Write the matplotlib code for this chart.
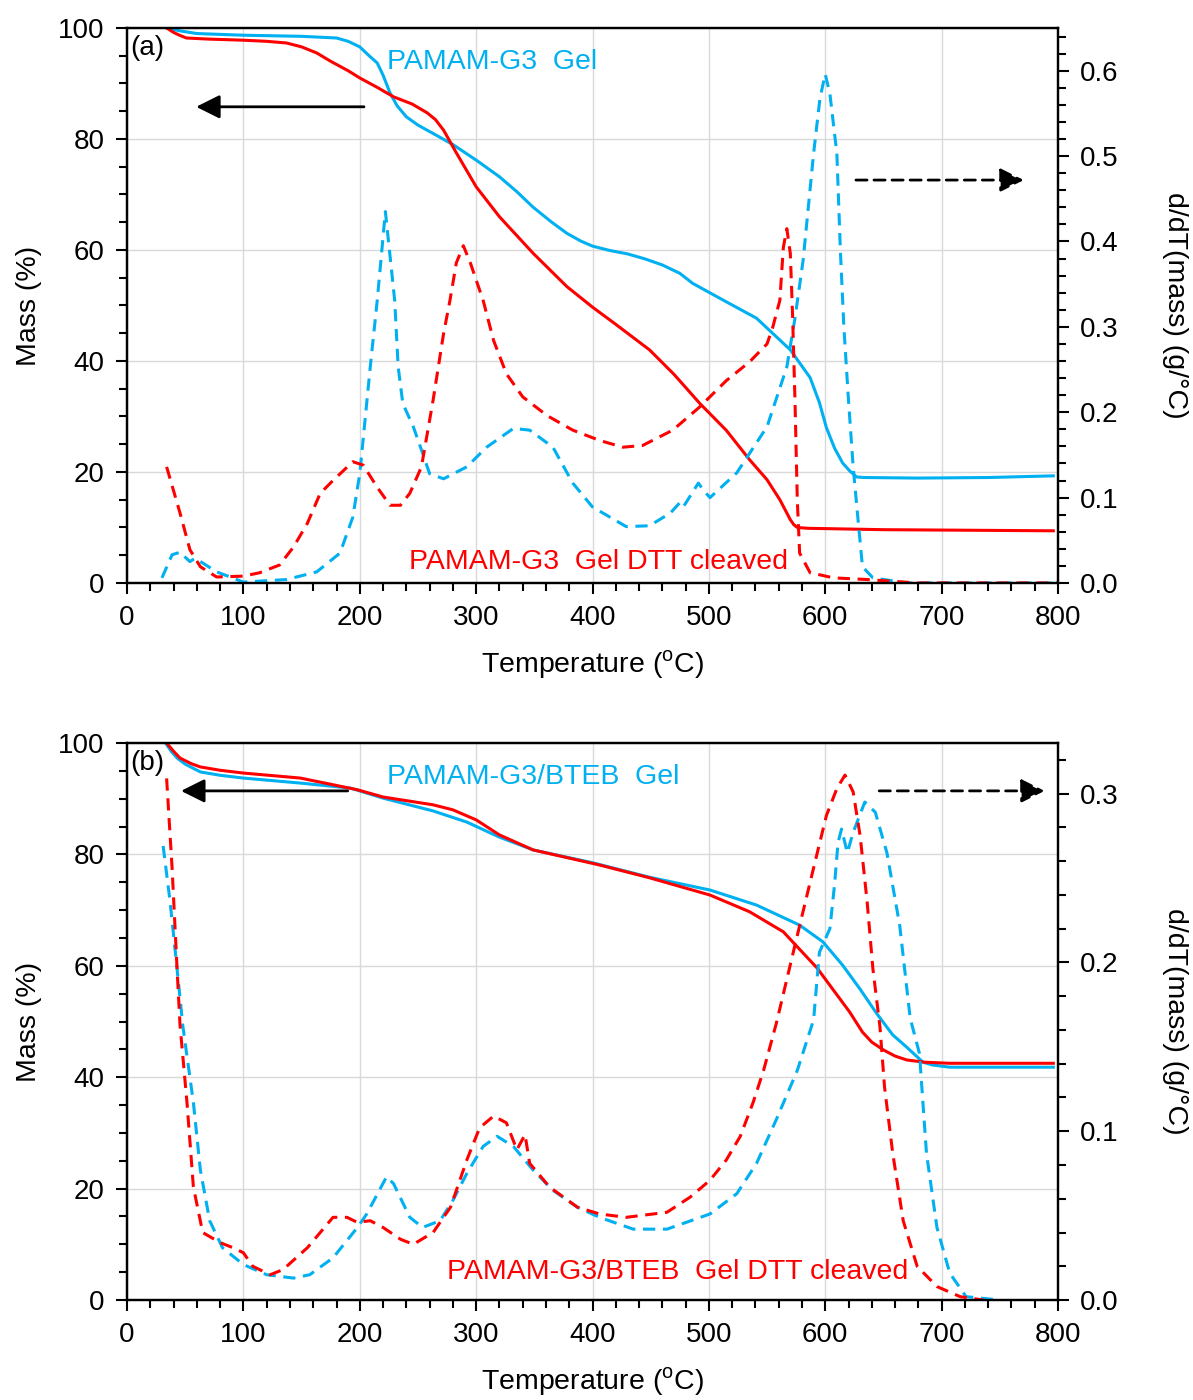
import matplotlib
matplotlib.use('Agg')
import matplotlib.pyplot as plt
from matplotlib.ticker import MultipleLocator, FormatStrFormatter

plt.rcParams['font.family'] = ['Liberation Sans', 'DejaVu Sans']
plt.rcParams['mathtext.fontset'] = 'custom'
plt.rcParams['mathtext.rm'] = 'Liberation Sans'

CYAN = '#00B0F0'
RED = '#FF0000'

# ---------- panel (a): PAMAM-G3 ----------
ta_gel_tg = [34, 45, 60, 100, 150, 180, 190, 200, 208, 215, 220, 226, 232, 240, 250,
             263, 280, 300, 320, 335, 349, 365, 378, 390, 400, 415, 430, 445, 460, 475,
             486, 512, 541, 570, 587, 595, 601, 608, 615, 621, 627, 633, 679, 740, 796]
ma_gel_tg = [100, 99.5, 99.0, 98.7, 98.5, 98.2, 97.6, 96.6, 95.0, 93.7, 91.5, 88.3, 86.0, 84.0, 82.5,
             81.0, 79.0, 76.2, 73.2, 70.5, 67.7, 65.0, 63.0, 61.6, 60.7, 59.9, 59.3, 58.4, 57.3, 55.8,
             54.0, 51.0, 47.7, 42.0, 37.0, 32.5, 28.0, 24.3, 21.6, 20.2, 19.1, 19.0, 18.9, 19.0, 19.3]

ta_dtt_tg = [34, 40, 45, 51, 70, 100, 120, 137, 150, 163, 175, 190, 200, 215, 229,
             245, 258, 265, 272, 283, 300, 320, 349, 378, 400, 420, 449, 470, 492, 515,
             535, 550, 561, 566, 570, 573, 576, 585, 650, 796]
ma_dtt_tg = [100, 99.2, 98.7, 98.2, 98.0, 97.8, 97.6, 97.3, 96.6, 95.5, 94.0, 92.3, 91.0, 89.3, 87.6,
             86.3, 84.7, 83.5, 81.6, 77.5, 71.4, 66.0, 59.4, 53.4, 49.7, 46.6, 42.0, 37.6, 32.4, 27.5,
             22.2, 18.6, 15.0, 13.0, 11.4, 10.5, 10.0, 9.85, 9.6, 9.4]

ta_gel_dtg = [30, 38.7, 45.5, 54, 58.5, 77, 100, 137, 163, 183, 194, 200, 209, 215, 222,
              230, 233, 237, 246, 254, 260, 272, 292, 309, 332, 346, 366, 383, 400, 429,
              449, 467, 475, 478, 491, 495, 501, 524, 550, 567, 574, 581, 590, 595.5, 600,
              604, 610, 613, 616, 620, 624, 628, 632, 641, 670, 800]
da_gel_dtg = [0.006, 0.033, 0.036, 0.025, 0.029, 0.013, 0.001, 0.004, 0.013, 0.035, 0.077, 0.128, 0.253, 0.331, 0.435,
              0.331, 0.253, 0.21, 0.183, 0.152, 0.128, 0.122, 0.136, 0.159, 0.181, 0.179, 0.159, 0.117, 0.089, 0.066,
              0.067, 0.082, 0.094, 0.089, 0.117, 0.109, 0.1, 0.129, 0.183, 0.253, 0.31, 0.378, 0.503, 0.568, 0.596,
              0.573, 0.503, 0.39, 0.30, 0.214, 0.136, 0.077, 0.019, 0.006, 0.0, 0.0]

ta_dtt_dtg = [34, 45.5, 54, 63, 77, 100, 114, 131, 143, 155, 166, 177, 194, 203, 215,
              226, 235, 243, 253, 263, 272, 277.5, 283, 289, 295, 306, 315, 326, 340, 361,
              383, 406, 426, 443, 469, 492, 515, 535, 550, 555, 561, 564, 567, 570, 572,
              574, 576, 578, 587, 607, 636, 679, 800]
da_dtt_dtg = [0.136, 0.082, 0.039, 0.019, 0.007, 0.008, 0.012, 0.021, 0.042, 0.07, 0.105, 0.12, 0.142, 0.138, 0.112,
              0.091, 0.091, 0.105, 0.136, 0.214, 0.292, 0.331, 0.375, 0.395, 0.375, 0.331, 0.284, 0.245, 0.218, 0.196,
              0.179, 0.167, 0.159, 0.161, 0.179, 0.206, 0.237, 0.259, 0.28, 0.3, 0.331, 0.393, 0.415, 0.386, 0.311,
              0.214, 0.097, 0.035, 0.012, 0.006, 0.004, 0.0, 0.0]

# ---------- panel (b): PAMAM-G3/BTEB ----------
tb_gel_tg = [33, 38, 43, 50, 63, 80, 100, 149, 192, 220, 263, 292, 320, 349, 400,
             449, 501, 541, 578, 598, 615, 630, 644, 658, 670, 684, 692, 707, 796]
mb_gel_tg = [100, 98.5, 97.3, 96.2, 94.8, 94.2, 93.7, 92.8, 91.9, 90.1, 87.8, 85.8, 83.1, 80.8, 78.5,
             75.9, 73.6, 70.9, 67.3, 64.3, 60.1, 55.8, 51.5, 47.6, 45.4, 42.7, 42.2, 41.8, 41.8]

tb_dtt_tg = [34, 40, 45.5, 55, 63, 80, 100, 149, 177, 198, 220, 263, 280, 300, 320,
             349, 406, 449, 501, 535, 564, 593, 621, 632, 640, 650, 660, 670, 685, 707, 796]
mb_dtt_tg = [100, 98.5, 97.3, 96.3, 95.7, 95.1, 94.6, 93.7, 92.5, 91.6, 90.3, 88.9, 88.0, 86.2, 83.5,
             80.8, 78.1, 75.8, 72.7, 69.7, 66.1, 59.6, 51.7, 48.1, 46.3, 44.9, 43.8, 43.1, 42.7, 42.5, 42.5]

tb_gel_dtg = [31, 37, 43, 48, 57, 63, 71, 82, 100, 120, 143, 157, 177, 198, 206,
              223, 229, 243, 254, 269, 280, 292, 306, 318, 332, 349, 366, 387, 406, 435,
              464, 501, 524, 541, 558, 576, 590, 595, 604, 608, 611, 614, 619, 624, 634,
              643, 653, 664, 673, 681, 687, 696, 707, 721, 750]
db_gel_dtg = [0.269, 0.236, 0.196, 0.162, 0.117, 0.077, 0.047, 0.031, 0.021, 0.015, 0.013, 0.015, 0.025, 0.043, 0.051,
              0.073, 0.069, 0.049, 0.043, 0.047, 0.059, 0.075, 0.091, 0.097, 0.091, 0.077, 0.065, 0.055, 0.049, 0.042,
              0.042, 0.051, 0.063, 0.081, 0.107, 0.136, 0.166, 0.206, 0.22, 0.246, 0.271, 0.279, 0.265, 0.277, 0.295,
              0.289, 0.265, 0.222, 0.167, 0.146, 0.087, 0.043, 0.016, 0.002, 0.0]

tb_dtt_dtg = [34, 38.7, 43, 45.5, 51.5, 57, 65, 80, 91, 100, 108, 123, 134, 155, 177,
              189, 198, 209, 220, 235, 246, 263, 278, 292, 303, 315, 326, 335, 342, 346,
              363, 387, 406, 429, 464, 484, 501, 515, 527, 538, 547, 558, 576, 590, 601,
              610, 617, 624, 630, 636, 641, 647, 651, 658, 667, 679, 696, 716, 736]
db_dtt_dtg = [0.309, 0.256, 0.196, 0.163, 0.117, 0.067, 0.040, 0.034, 0.031, 0.028, 0.020, 0.015, 0.018, 0.031, 0.049,
              0.049, 0.046, 0.047, 0.043, 0.036, 0.033, 0.040, 0.055, 0.083, 0.102, 0.109, 0.105, 0.089, 0.098, 0.081,
              0.067, 0.055, 0.051, 0.049, 0.052, 0.061, 0.071, 0.083, 0.097, 0.117, 0.136, 0.164, 0.216, 0.256, 0.287,
              0.303, 0.311, 0.301, 0.275, 0.236, 0.196, 0.162, 0.126, 0.087, 0.047, 0.020, 0.008, 0.002, 0.0]

FS = 20
FS_LAB = 20.5
FS_ANN = 20.5
LW = 2.2
DASH = (0, (4, 2.5))


def style_axes(ax, ax2, ymax2):
    ax.set_xlim(0, 800)
    ax.set_ylim(0, 100)
    ax2.set_ylim(0, ymax2)
    ax.xaxis.set_major_locator(MultipleLocator(100))
    ax.xaxis.set_minor_locator(MultipleLocator(20))
    ax.yaxis.set_major_locator(MultipleLocator(20))
    ax.yaxis.set_minor_locator(MultipleLocator(5))
    ax2.yaxis.set_major_locator(MultipleLocator(0.1))
    ax2.yaxis.set_minor_locator(MultipleLocator(0.02))
    ax2.yaxis.set_major_formatter(FormatStrFormatter('%.1f'))
    ax.grid(True, which='major', color='#D9D9D9', lw=1.0)
    ax.set_axisbelow(True)
    for a in (ax, ax2):
        for s in a.spines.values():
            s.set_linewidth(1.6)
            s.set_color('black')
        a.tick_params(which='major', direction='out', length=8, width=1.5, labelsize=FS, pad=8)
        a.tick_params(which='minor', direction='out', length=6, width=1.5)
    ax.set_xlabel('Temperature ($^{\\mathrm{o}}$C)', fontsize=FS_LAB, labelpad=12)
    ax.set_ylabel('Mass (%)', fontsize=FS_LAB, labelpad=12)
    ax2.set_ylabel('d/dT(mass) (g/°C)', fontsize=FS_LAB, rotation=270, labelpad=50)


def arrow(ax, x0, x1, y, dashed=False):
    props = dict(arrowstyle='-|>', color='black', lw=2.0, mutation_scale=36)
    if dashed:
        props['linestyle'] = (0, (4, 2.5))
    ax.annotate('', xy=(x1, y), xytext=(x0, y), arrowprops=props)


fig = plt.figure(figsize=(11.93, 14.0), dpi=100)

# panel (a)
ax1 = fig.add_axes([0.1065, 0.5836, 0.7803, 0.3964])
ax1b = ax1.twinx()
ax1.plot(ta_gel_tg, ma_gel_tg, color=CYAN, lw=LW)
ax1.plot(ta_dtt_tg, ma_dtt_tg, color=RED, lw=LW)
ax1b.plot(ta_gel_dtg, da_gel_dtg, color=CYAN, lw=LW, linestyle=DASH)
ax1b.plot(ta_dtt_dtg, da_dtt_dtg, color=RED, lw=LW, linestyle=DASH)
style_axes(ax1, ax1b, 0.65)
ax1.text(3, 96.4, '(a)', fontsize=FS, va='center', ha='left')
ax1.text(223, 93.9, 'PAMAM-G3  Gel', color=CYAN, fontsize=FS_ANN, va='center', ha='left')
ax1.text(242, 3.8, 'PAMAM-G3  Gel DTT cleaved', color=RED, fontsize=FS_ANN, va='center', ha='left')
arrow(ax1, 206, 57, 85.8)
arrow(ax1, 624, 773, 72.6, dashed=True)

# panel (b)
ax2 = fig.add_axes([0.1065, 0.0714, 0.7803, 0.3979])
ax2b = ax2.twinx()
ax2.plot(tb_gel_tg, mb_gel_tg, color=CYAN, lw=LW)
ax2.plot(tb_dtt_tg, mb_dtt_tg, color=RED, lw=LW)
ax2b.plot(tb_gel_dtg, db_gel_dtg, color=CYAN, lw=LW, linestyle=DASH)
ax2b.plot(tb_dtt_dtg, db_dtt_dtg, color=RED, lw=LW, linestyle=DASH)
style_axes(ax2, ax2b, 0.33)
ax2.text(3, 96.4, '(b)', fontsize=FS, va='center', ha='left')
ax2.text(223, 93.9, 'PAMAM-G3/BTEB  Gel', color=CYAN, fontsize=FS_ANN, va='center', ha='left')
ax2.text(275, 5.0, 'PAMAM-G3/BTEB  Gel DTT cleaved', color=RED, fontsize=FS_ANN, va='center', ha='left')
arrow(ax2, 192, 44, 91.4)
arrow(ax2, 644, 791, 91.4, dashed=True)

fig.savefig('out.png', dpi=100)
